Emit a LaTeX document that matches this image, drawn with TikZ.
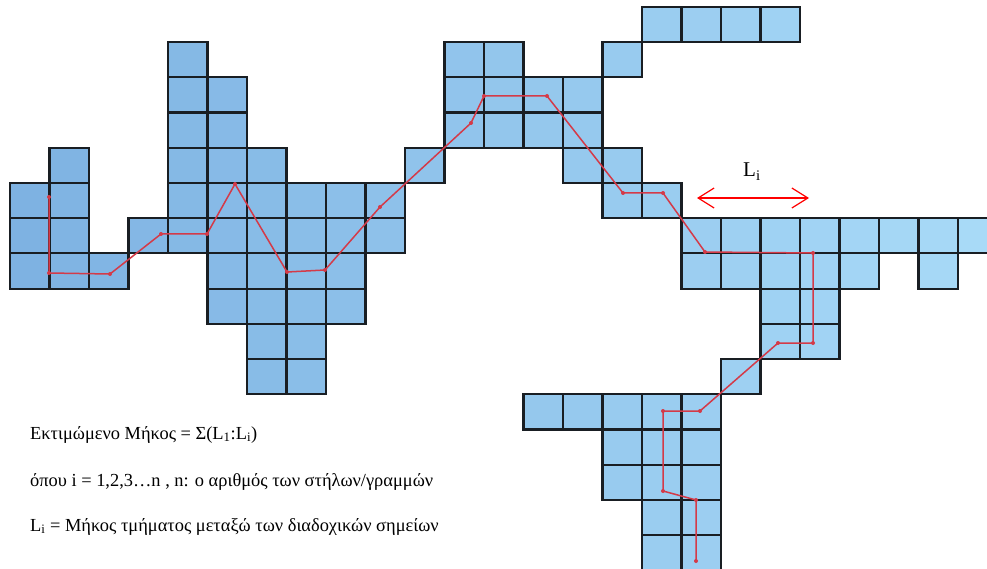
\documentclass[tikz,border=0pt]{standalone}
\usepackage{fontspec}
\setmainfont{Liberation Serif}
\usetikzlibrary{arrows.meta}
\definecolor{cL}{RGB}{126,178,226}
\definecolor{cR}{RGB}{168,218,247}
\definecolor{pathred}{RGB}{212,58,72}
\definecolor{gridline}{RGB}{25,30,35}
\tikzset{
  cellline/.style={draw=gridline, line width=2.2pt},
  walk/.style={draw=pathred, line width=1.5pt, line join=round},
  vdot/.style={fill=pathred},
  lenarrow/.style={draw=red, line width=1.2pt, {Straight Barb[length=16pt,width=20pt]}-{Straight Barb[length=16pt,width=20pt]}},
  txt/.style={anchor=base west, inner sep=0pt, font=\fontsize{18.4}{22}\selectfont}
}
\begin{document}
\begin{tikzpicture}[x=1pt,y=-1pt]
\useasboundingbox (0,0) rectangle (987,569);
\clip (0,0) rectangle (987,569);
\def\celllist{0/5,0/6,0/7,1/4,1/5,1/6,1/7,2/7,3/6,
4/1,4/2,4/3,4/4,4/5,4/6,
5/2,5/3,5/4,5/5,5/6,5/7,5/8,
6/4,6/5,6/6,6/7,6/8,6/9,6/10,
7/5,7/6,7/7,7/8,7/9,7/10,
8/5,8/6,8/7,8/8,9/5,9/6,10/4,
11/1,11/2,11/3,12/1,12/2,12/3,
13/2,13/3,13/11,14/2,14/3,14/4,14/11,
15/1,15/4,15/5,15/11,15/12,15/13,
16/0,16/5,16/11,16/12,16/13,16/14,16/15,
17/0,17/6,17/7,17/11,17/12,17/13,17/14,17/15,
18/0,18/6,18/7,18/10,
19/0,19/6,19/7,19/8,19/9,
20/6,20/7,20/8,20/9,
21/6,21/7,22/6,23/6,23/7,24/6}
% fills
\foreach \c/\r in \celllist {
  \pgfmathtruncatemacro{\pp}{round(\c/24*100)}
  \colorlet{cc}{cR!\pp!cL}
  \fill[cc] ({10+39.5*\c},{7+35.2*\r}) rectangle ++(39.5,35.2);
}
% borders
\foreach \c/\r in \celllist {
  \draw[cellline] ({10+39.5*\c},{7+35.2*\r}) rectangle ++(39.5,35.2);
}
% walk vertices
\coordinate (p1) at (49,197);
\coordinate (p2) at (49,273);
\coordinate (p3) at (110,274);
\coordinate (p4) at (161,234);
\coordinate (p5) at (207,234);
\coordinate (p6) at (235,184);
\coordinate (p7) at (287,272);
\coordinate (p8) at (325,270);
\coordinate (p9) at (380,207);
\coordinate (p10) at (471,123);
\coordinate (p11) at (484,96);
\coordinate (p12) at (547,96);
\coordinate (p13) at (623,193);
\coordinate (p14) at (663,193);
\coordinate (p15) at (705,252);
\coordinate (p16) at (813,253);
\coordinate (p17) at (813,343);
\coordinate (p18) at (778,343);
\coordinate (p19) at (700,411);
\coordinate (p20) at (663,411);
\coordinate (p21) at (663,491);
\coordinate (p22) at (696,500);
\coordinate (p23) at (696,561);
\draw[walk] (p1) \foreach \i in {2,...,23} { -- (p\i) };
\foreach \i in {1,...,23} { \fill[vdot] (p\i) circle (2pt); }
% length arrow
\coordinate (a1) at (697,198);
\coordinate (a2) at (809,198);
\draw[lenarrow] (a1) -- (a2);
\node[anchor=base west, inner sep=0pt, font=\fontsize{21}{24}\selectfont] (li) at (743,177) {L\textsubscript{i}};
% texts
\node[txt] (t1) at (30,439) {Εκτιμώμενο Μήκος = Σ(L\textsubscript{1}:L\textsubscript{i})};
\node[txt] (t2) at (30,486) {όπου i = 1,2,3…n , n: ο αριθμός των στήλων/γραμμών};
\node[txt] (t3) at (30,531) {L\textsubscript{i} = Μήκος τμήματος μεταξώ των διαδοχικών σημείων};
\end{tikzpicture}
\end{document}
